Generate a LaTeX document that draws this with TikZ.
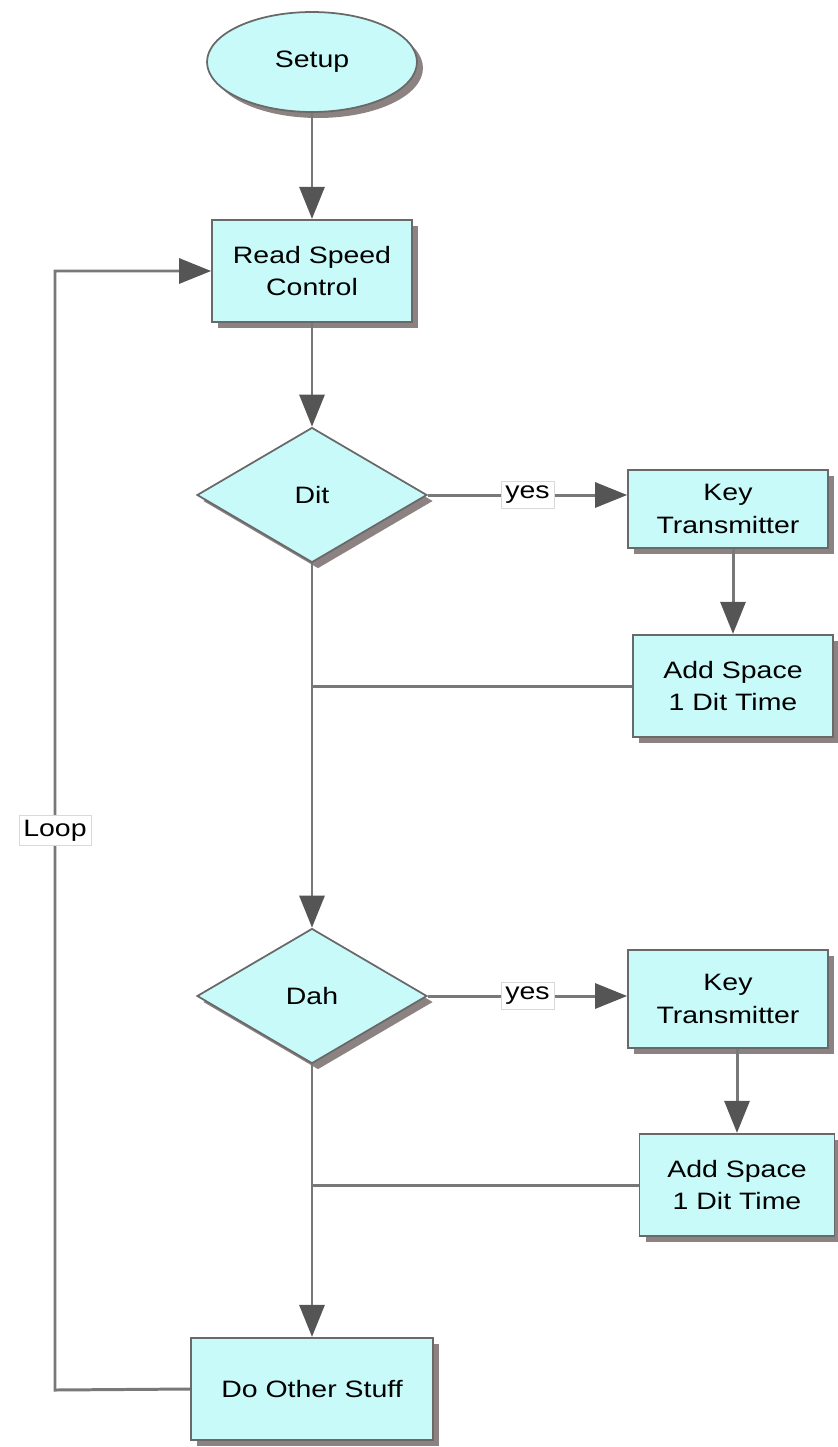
\documentclass[tikz,border=0pt]{standalone}
\usepackage{fontspec}
\setmainfont{Liberation Sans}[FakeStretch=1.2]
\usetikzlibrary{shapes.geometric, shadows, arrows.meta}

\definecolor{boxfill}{RGB}{200,250,250}
\definecolor{bordergray}{RGB}{105,105,105}
\definecolor{linegray}{RGB}{120,120,120}
\definecolor{tipgray}{RGB}{85,85,85}
\definecolor{shadowgray}{RGB}{140,130,130}

\begin{document}
\begin{tikzpicture}[
    x=0.02cm, y=-0.02cm,
    every node/.style={font=\fontsize{13.5}{18.5}\selectfont},
    shade/.style={drop shadow={shadow xshift=0.12cm, shadow yshift=-0.12cm, fill=shadowgray, opacity=1}},
    block/.style={rectangle, draw=bordergray, line width=1pt, fill=boxfill, align=center,
      minimum width=4cm, minimum height=2.05cm, shade},
    decision/.style={diamond, draw=bordergray, line width=1pt, fill=boxfill, inner sep=0pt,
      minimum width=4.6cm, minimum height=2.7cm, shade},
    terminal/.style={ellipse, draw=bordergray, line width=1pt, fill=boxfill,
      minimum width=4.2cm, minimum height=2cm, shade},
    tag/.style={fill=white, draw=black!15, line width=0.4pt, inner sep=2.5pt},
    conn/.style={draw=linegray, line width=1.7pt},
    arr/.style={conn, -{Triangle[width=0.5cm, length=0.64cm, color=tipgray]}}
  ]
  \useasboundingbox (0,0) rectangle (838,1447);

  % --- main column ---
  \node[terminal] (setup) at (312,62) {Setup};
  \node[block] (readspeed) at (312,271) {Read Speed\\Control};
  \node[decision] (dit) at (312,495) {Dit};
  \node[decision] (dah) at (312,996) {Dah};
  \node[block, minimum width=4.85cm] (other) at (312,1389) {Do Other Stuff};

  % --- right column ---
  \node[block, minimum height=1.56cm] (key1) at (728,509) {Key\\Transmitter};
  \node[block] (space1) at (733,686) {Add Space\\1 Dit Time};
  \node[block, minimum height=1.96cm] (key2) at (728,999) {Key\\Transmitter};
  \node[block, minimum width=3.9cm] (space2) at (737,1185) {Add Space\\1 Dit Time};

  \coordinate (loopcorner) at (55,1390);

  % down the middle
  \draw[arr] (setup) -- (readspeed);
  \draw[arr] (readspeed) -- (dit);
  \draw[arr] (dit) -- (dah);
  \draw[arr] (dah) -- (other);

  % yes branches
  \draw[arr] (dit.east) -- node[tag] {yes} (dit.east -| key1.west);
  \draw[arr] (key1.south -| space1.north) -- (space1.north);
  \draw[conn] (space1.west) -- (space1.west -| dit.south);

  \draw[arr] (dah.east) -- node[tag] {yes} (dah.east -| key2.west);
  \draw[arr] (key2.south -| space2.north) -- (space2.north);
  \draw[conn] (space2.west) -- (space2.west -| dah.south);

  % back to the top
  \draw[arr] (other.west) -- (loopcorner) |- node[tag, pos=0.25] {Loop} (readspeed.west);
\end{tikzpicture}
\end{document}
